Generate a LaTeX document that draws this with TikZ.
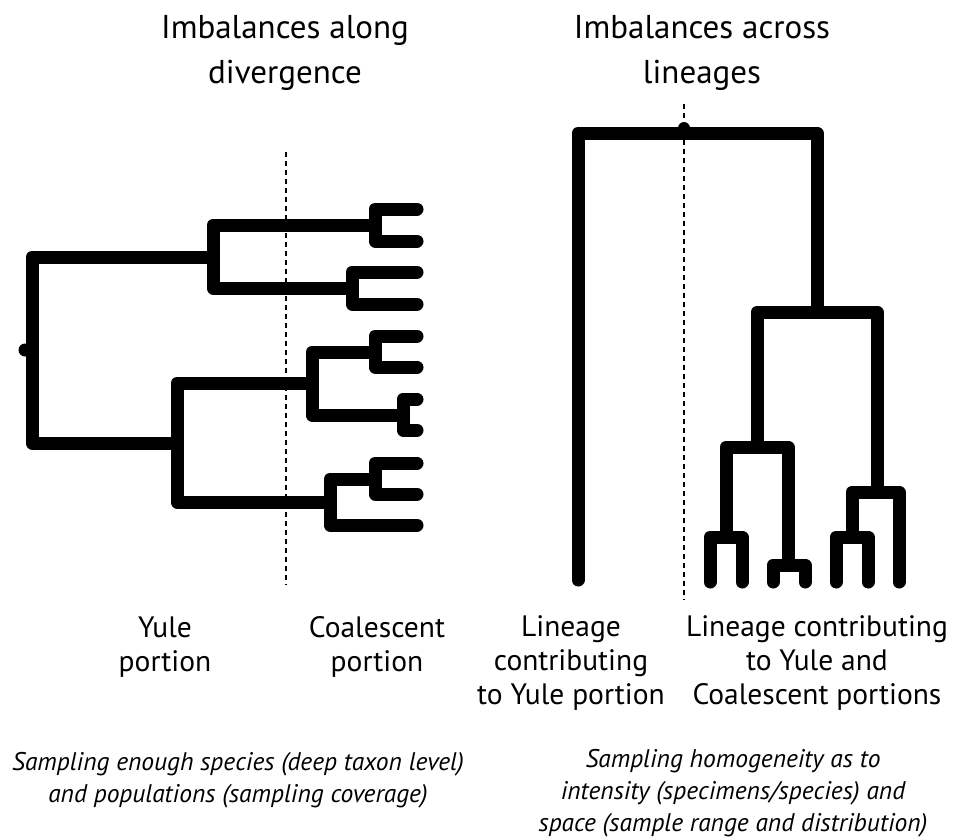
\documentclass[tikz,border=0pt]{standalone}
\usepackage{fontspec}
\setmainfont{PT Sans}
\begin{document}
\begin{tikzpicture}[x=1pt,y=-1pt,
  branch/.style={line width=13pt, line cap=round, line join=round},
  cut/.style={line width=2.2pt, dash pattern=on 5pt off 4pt},
  head/.style={font=\fontsize{33}{45}\selectfont, align=center, anchor=base, inner sep=0pt},
  lab/.style={font=\fontsize{29.5}{34}\selectfont, align=center, anchor=base, inner sep=0pt},
  note/.style={font=\itshape\fontsize{25.5}{32}\selectfont, align=center, anchor=base, inner sep=0pt}]
\useasboundingbox (0,0) rectangle (954,838);

% ---------- left tree: divergence, drawn horizontally ----------
\coordinate (L)    at (32,350);
\coordinate (LA)   at (213,257);
\coordinate (LB)   at (177,443);
\coordinate (LA1)  at (375,225);
\coordinate (LA2)  at (352,288);
\coordinate (LB1)  at (312,383);
\coordinate (LB2)  at (330,502);
\coordinate (LB1a) at (375,352);
\coordinate (LB1b) at (403,415);
\coordinate (LB2a) at (375,479);
\coordinate (t1)  at (417,209);
\coordinate (t2)  at (417,241);
\coordinate (t3)  at (417,272);
\coordinate (t4)  at (417,304);
\coordinate (t5)  at (417,336);
\coordinate (t6)  at (417,367);
\coordinate (t7)  at (417,399);
\coordinate (t8)  at (417,430);
\coordinate (t9)  at (417,463);
\coordinate (t10) at (417,494);
\coordinate (t11) at (417,525);

\fill (25,350) circle (6.5pt);
\draw[branch] (L) |- (LA);   \draw[branch] (L) |- (LB);
\draw[branch] (LA) |- (LA1); \draw[branch] (LA) |- (LA2);
\draw[branch] (LA1) |- (t1); \draw[branch] (LA1) |- (t2);
\draw[branch] (LA2) |- (t3); \draw[branch] (LA2) |- (t4);
\draw[branch] (LB) |- (LB1); \draw[branch] (LB) |- (LB2);
\draw[branch] (LB1) |- (LB1a); \draw[branch] (LB1) |- (LB1b);
\draw[branch] (LB1a) |- (t5); \draw[branch] (LB1a) |- (t6);
\draw[branch] (LB1b) |- (t7); \draw[branch] (LB1b) |- (t8);
\draw[branch] (LB2) |- (LB2a); \draw[branch] (LB2) |- (t11);
\draw[branch] (LB2a) |- (t9); \draw[branch] (LB2a) |- (t10);

\coordinate (cutLtop) at (286,152);
\coordinate (cutLbot) at (286,585);
\draw[cut] (cutLtop) -- (cutLbot);

% ---------- right tree: lineages, drawn vertically ----------
\coordinate (R)   at (684,133);
\coordinate (RC)  at (817,312);
\coordinate (RD)  at (757,447);
\coordinate (RE)  at (877,492);
\coordinate (RD1) at (726,537);
\coordinate (RD2) at (788,565);
\coordinate (RE1) at (852,537);
\coordinate (s0) at (578,580);
\coordinate (s1) at (710,582);
\coordinate (s2) at (742,582);
\coordinate (s3) at (773,582);
\coordinate (s4) at (805,582);
\coordinate (s5) at (836,582);
\coordinate (s6) at (868,582);
\coordinate (s7) at (899,582);

\fill (684,128) circle (6pt);
\draw[branch] (R) -| (s0);   \draw[branch] (R) -| (RC);
\draw[branch] (RC) -| (RD);  \draw[branch] (RC) -| (RE);
\draw[branch] (RD) -| (RD1); \draw[branch] (RD) -| (RD2);
\draw[branch] (RD1) -| (s1); \draw[branch] (RD1) -| (s2);
\draw[branch] (RD2) -| (s3); \draw[branch] (RD2) -| (s4);
\draw[branch] (RE) -| (RE1); \draw[branch] (RE) -| (s7);
\draw[branch] (RE1) -| (s5); \draw[branch] (RE1) -| (s6);

\coordinate (cutRtop) at (684,104);
\coordinate (cutRbot) at (684,600);
\draw[cut] (cutRtop) -- (cutRbot);

% ---------- headings and labels (anchored at the last baseline) ----------
\node[head] (h1) at (285,83) {Imbalances along\\divergence};
\node[head] (h2) at (702,83) {Imbalances across\\lineages};

\node[lab] (yule) at (165,671) {Yule\\portion};
\node[lab] (coal) at (377,671) {Coalescent\\portion};
\node[lab] (lin1) at (571,704) {Lineage\\contributing\\to Yule portion};
\node[lab] (lin2) at (817,704) {Lineage contributing\\to Yule and\\Coalescent portions};

\node[note] (n1) at (238,802) {Sampling enough species (deep taxon level)\\and populations (sampling coverage)};
\node[note] (n2) at (733,831) {Sampling homogeneity as to\\intensity (specimens/species) and\\space (sample range and distribution)};
\end{tikzpicture}
\end{document}
